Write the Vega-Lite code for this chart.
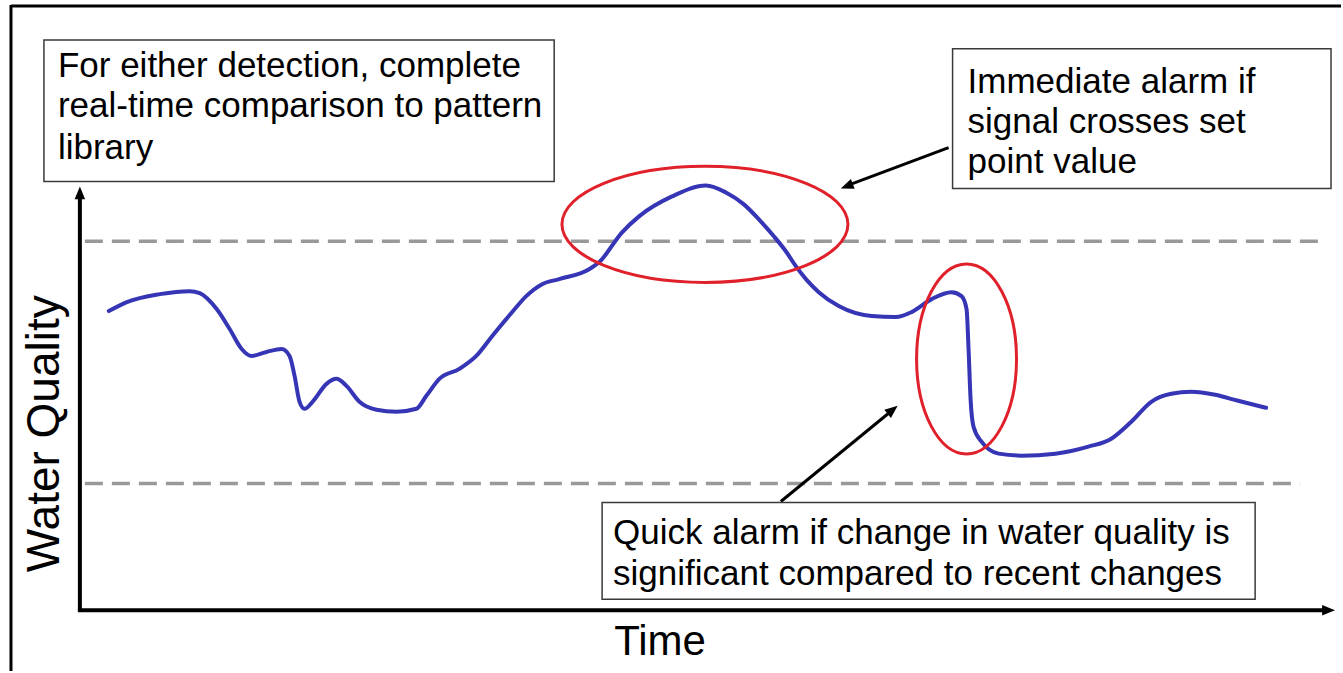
{
  "$schema": "https://vega.github.io/schema/vega-lite/v6.json",
  "width": 1343,
  "height": 673,
  "autosize": {"type": "fit", "contains": "padding"},
  "padding": 0,
  "background": "white",
  "config": {"view": {"stroke": null}},
  "datasets": {
    "curve": [
      {"t":109,"q":361},{"t":127,"q":370},{"t":160,"q":378},{"t":190,"q":381},{"t":200,"q":379},
      {"t":217,"q":363},{"t":230,"q":343},{"t":242,"q":323},{"t":252,"q":316},{"t":267,"q":320},
      {"t":282,"q":323},{"t":290,"q":316},{"t":295,"q":296},{"t":300,"q":270},{"t":305,"q":263},
      {"t":313,"q":270},{"t":327,"q":288},{"t":337,"q":293},{"t":347,"q":286},{"t":360,"q":270},
      {"t":377,"q":262},{"t":397,"q":260},{"t":417,"q":263},{"t":427,"q":276},{"t":440,"q":293},
      {"t":460,"q":303},{"t":477,"q":316},{"t":493,"q":336},{"t":513,"q":360},{"t":527,"q":376},
      {"t":543,"q":388},{"t":560,"q":393},{"t":590,"q":403},{"t":600,"q":410},{"t":623,"q":440},
      {"t":640,"q":456},{"t":673,"q":476},{"t":707,"q":487},{"t":727,"q":480},{"t":745,"q":468},
      {"t":760,"q":453},{"t":775,"q":436},{"t":787,"q":421},{"t":797,"q":406},{"t":808,"q":392},
      {"t":820,"q":380},{"t":840,"q":366},{"t":873,"q":356},
      {"t":897,"q":355},{"t":913,"q":360},{"t":933,"q":373},{"t":953,"q":380},{"t":963,"q":376},
      {"t":968,"q":363},{"t":970,"q":323},{"t":972,"q":273},{"t":975,"q":245},{"t":983,"q":230},
      {"t":1000,"q":218},{"t":1023,"q":216},{"t":1057,"q":218},{"t":1090,"q":225},{"t":1113,"q":233},
      {"t":1133,"q":250},{"t":1153,"q":270},{"t":1173,"q":278},{"t":1193,"q":280},{"t":1217,"q":277},
      {"t":1240,"q":271},{"t":1268,"q":264}
    ],
    "frame": [
      {"t":11,"q":668,"t2":11,"q2":0},
      {"t":11,"q":667,"t2":1343,"q2":667}
    ],
    "axes": [
      {"t":80,"q":61,"t2":80,"q2":478},
      {"t":78,"q":61,"t2":1329,"q2":61}
    ],
    "pointers": [
      {"t":950,"q":525,"t2":849,"q2":487},
      {"t":782,"q":170,"t2":893,"q2":261}
    ],
    "thresholds": [
      {"name":"upper","t":85,"q":431,"t2":1327,"q2":431},
      {"name":"lower","t":85,"q":188,"t2":1302,"q2":188}
    ],
    "tips": [
      {"name":"yaxis","t":80,"q":486},
      {"name":"xaxis","t":1337,"q":61},
      {"name":"setpoint","t":842,"q":484},
      {"name":"change","t":899,"q":266}
    ],
    "zones": [
      {"name":"setpoint","t":706,"q":448},
      {"name":"change","t":968,"q":313}
    ],
    "boxes": [
      {"t":44,"t2":555,"q":633,"q2":491},
      {"t":954,"t2":1333,"q":624,"q2":484},
      {"t":603,"t2":1257,"q":169,"q2":72}
    ],
    "notes": [
      {"t":58,"q":596,"label":"For either detection, complete"},
      {"t":58,"q":556,"label":"real-time comparison to pattern"},
      {"t":58,"q":514,"label":"library"},
      {"t":969,"q":580,"label":"Immediate alarm if"},
      {"t":969,"q":540,"label":"signal crosses set"},
      {"t":969,"q":499,"label":"point value"},
      {"t":614,"q":127,"label":"Quick alarm if change in water quality is"},
      {"t":614,"q":86,"label":"significant compared to recent changes"}
    ],
    "ytitle": [{"t":59,"q":238,"label":"Water Quality"}],
    "xtitle": [{"t":661,"q":16,"label":"Time"}]
  },
  "encoding": {
    "x": {"field":"t","type":"quantitative","scale":{"domain":[0,1343],"nice":false,"zero":false},"axis":null},
    "y": {"field":"q","type":"quantitative","scale":{"domain":[0,673],"nice":false,"zero":false},"axis":null}
  },
  "layer": [
    {
      "data": {"name":"frame"},
      "mark": {"type":"rule","color":"#000000","strokeWidth":3},
      "encoding": {"x2":{"field":"t2"},"y2":{"field":"q2"}}
    },
    {
      "data": {"name":"thresholds"},
      "mark": {"type":"rule","color":"#999999","strokeWidth":3.5,"strokeDash":[18,9]},
      "encoding": {"x2":{"field":"t2"},"y2":{"field":"q2"}}
    },
    {
      "data": {"name":"axes"},
      "mark": {"type":"rule","color":"#000000","strokeWidth":4},
      "encoding": {"x2":{"field":"t2"},"y2":{"field":"q2"}}
    },
    {
      "data": {"name":"curve"},
      "mark": {"type":"line","color":"#3535b5","strokeWidth":4,"interpolate":"monotone","strokeCap":"round"}
    },
    {
      "data": {"name":"zones"},
      "transform": [{"filter":"datum.name === 'setpoint'"}],
      "mark": {"type":"point","filled":false,"opacity":1,"stroke":"#e0202a","strokeWidth":3,"size":81796,
        "shape":"M1,0C1,0.224,0.552,0.406,0,0.406C-0.552,0.406,-1,0.224,-1,0C-1,-0.224,-0.552,-0.406,0,-0.406C0.552,-0.406,1,-0.224,1,0Z"}
    },
    {
      "data": {"name":"zones"},
      "transform": [{"filter":"datum.name === 'change'"}],
      "mark": {"type":"point","filled":false,"opacity":1,"stroke":"#e0202a","strokeWidth":3,"size":36100,
        "shape":"M0.526,0C0.526,0.552,0.291,1,0,1C-0.291,1,-0.526,0.552,-0.526,0C-0.526,-0.552,-0.291,-1,0,-1C0.291,-1,0.526,-0.552,0.526,0Z"}
    },
    {
      "data": {"name":"pointers"},
      "mark": {"type":"rule","color":"#000000","strokeWidth":3},
      "encoding": {"x2":{"field":"t2"},"y2":{"field":"q2"}}
    },
    {
      "data": {"name":"tips"},
      "transform": [{"filter":"datum.name === 'yaxis'"}],
      "mark": {"type":"point","filled":true,"opacity":1,"color":"#000000","strokeWidth":0,"size":260,"angle":0,"shape":"M0,0L-0.65,1.6L0.65,1.6Z"}
    },
    {
      "data": {"name":"tips"},
      "transform": [{"filter":"datum.name === 'xaxis'"}],
      "mark": {"type":"point","filled":true,"opacity":1,"color":"#000000","strokeWidth":0,"size":260,"angle":90,"shape":"M0,0L-0.65,1.6L0.65,1.6Z"}
    },
    {
      "data": {"name":"tips"},
      "transform": [{"filter":"datum.name === 'setpoint'"}],
      "mark": {"type":"point","filled":true,"opacity":1,"color":"#000000","strokeWidth":0,"size":260,"angle":249,"shape":"M0,0L-0.65,1.6L0.65,1.6Z"}
    },
    {
      "data": {"name":"tips"},
      "transform": [{"filter":"datum.name === 'change'"}],
      "mark": {"type":"point","filled":true,"opacity":1,"color":"#000000","strokeWidth":0,"size":260,"angle":51,"shape":"M0,0L-0.65,1.6L0.65,1.6Z"}
    },
    {
      "data": {"name":"boxes"},
      "mark": {"type":"rect","fill":"#ffffff","stroke":"#3a3a3a","strokeWidth":1.5},
      "encoding": {"x2":{"field":"t2"},"y2":{"field":"q2"}}
    },
    {
      "data": {"name":"notes"},
      "mark": {"type":"text","font":"Liberation Sans","fontSize":35,"align":"left","baseline":"alphabetic","color":"#000000"},
      "encoding": {"text":{"field":"label"}}
    },
    {
      "data": {"name":"ytitle"},
      "mark": {"type":"text","font":"Liberation Sans","fontSize":46,"align":"center","baseline":"alphabetic","angle":270,"color":"#000000"},
      "encoding": {"text":{"field":"label"}}
    },
    {
      "data": {"name":"xtitle"},
      "mark": {"type":"text","font":"Liberation Sans","fontSize":42,"align":"center","baseline":"alphabetic","color":"#000000"},
      "encoding": {"text":{"field":"label"}}
    }
  ]
}
